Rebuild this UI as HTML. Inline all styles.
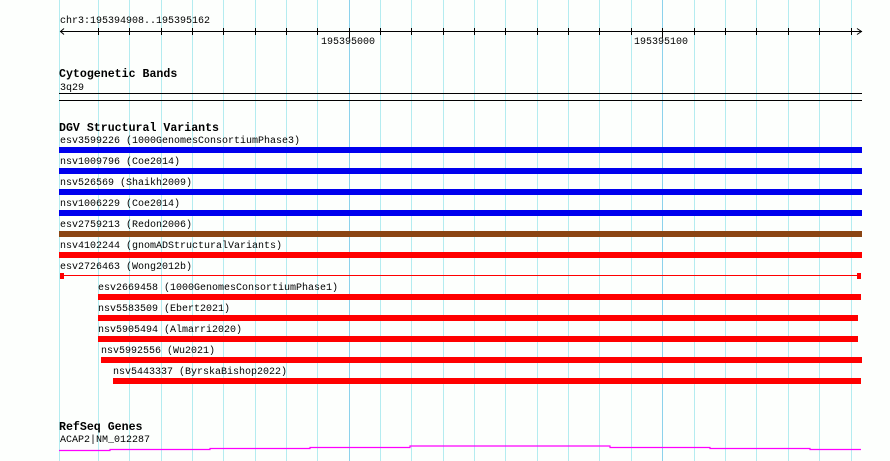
<!DOCTYPE html>
<html><head><meta charset="utf-8"><style>
body{margin:0;background:#fdfffd;width:890px;height:461px;overflow:hidden;position:relative;font-family:"Liberation Mono",monospace;}
.t{position:absolute;font-size:10px;line-height:11px;color:#000;white-space:pre;}
.h{position:absolute;font-size:11.6px;line-height:12px;font-weight:bold;white-space:pre;}
svg{position:absolute;left:0;top:0;}
</style></head><body>
<svg width="890" height="461">
<g stroke="#b4ecf0" stroke-width="1">
<line x1="59.5" y1="0" x2="59.5" y2="461"/>
<line x1="98.5" y1="0" x2="98.5" y2="461"/><line x1="129.5" y1="0" x2="129.5" y2="461"/><line x1="161.5" y1="0" x2="161.5" y2="461"/><line x1="192.5" y1="0" x2="192.5" y2="461"/><line x1="223.5" y1="0" x2="223.5" y2="461"/><line x1="255.5" y1="0" x2="255.5" y2="461"/><line x1="286.5" y1="0" x2="286.5" y2="461"/><line x1="317.5" y1="0" x2="317.5" y2="461"/>
<line x1="380.5" y1="0" x2="380.5" y2="461"/><line x1="411.5" y1="0" x2="411.5" y2="461"/><line x1="443.5" y1="0" x2="443.5" y2="461"/><line x1="474.5" y1="0" x2="474.5" y2="461"/><line x1="505.5" y1="0" x2="505.5" y2="461"/><line x1="537.5" y1="0" x2="537.5" y2="461"/><line x1="568.5" y1="0" x2="568.5" y2="461"/><line x1="599.5" y1="0" x2="599.5" y2="461"/><line x1="631.5" y1="0" x2="631.5" y2="461"/>
<line x1="694.5" y1="0" x2="694.5" y2="461"/><line x1="725.5" y1="0" x2="725.5" y2="461"/><line x1="756.5" y1="0" x2="756.5" y2="461"/><line x1="788.5" y1="0" x2="788.5" y2="461"/><line x1="819.5" y1="0" x2="819.5" y2="461"/><line x1="851.5" y1="0" x2="851.5" y2="461"/>
</g>
<g stroke="#8cd2ec"><line x1="349.5" y1="0" x2="349.5" y2="461"/><line x1="662.5" y1="0" x2="662.5" y2="461"/></g>
<g stroke="#000" stroke-width="1">
<line x1="60" y1="31.5" x2="862" y2="31.5"/>
<polyline points="64,28.5 60.5,31.5 64,34.5" fill="none"/>
<polyline points="857,28.5 861.5,31.5 857,34.5" fill="none"/>
<g>
<line x1="98.5" y1="28" x2="98.5" y2="35"/><line x1="129.5" y1="28" x2="129.5" y2="35"/><line x1="161.5" y1="28" x2="161.5" y2="35"/><line x1="192.5" y1="28" x2="192.5" y2="35"/><line x1="223.5" y1="28" x2="223.5" y2="35"/><line x1="255.5" y1="28" x2="255.5" y2="35"/><line x1="286.5" y1="28" x2="286.5" y2="35"/><line x1="317.5" y1="28" x2="317.5" y2="35"/><line x1="349.5" y1="28" x2="349.5" y2="38"/><line x1="380.5" y1="28" x2="380.5" y2="35"/><line x1="411.5" y1="28" x2="411.5" y2="35"/><line x1="443.5" y1="28" x2="443.5" y2="35"/><line x1="474.5" y1="28" x2="474.5" y2="35"/><line x1="505.5" y1="28" x2="505.5" y2="35"/><line x1="537.5" y1="28" x2="537.5" y2="35"/><line x1="568.5" y1="28" x2="568.5" y2="35"/><line x1="599.5" y1="28" x2="599.5" y2="35"/><line x1="631.5" y1="28" x2="631.5" y2="35"/><line x1="662.5" y1="28" x2="662.5" y2="38"/><line x1="694.5" y1="28" x2="694.5" y2="35"/><line x1="725.5" y1="28" x2="725.5" y2="35"/><line x1="756.5" y1="28" x2="756.5" y2="35"/><line x1="788.5" y1="28" x2="788.5" y2="35"/><line x1="819.5" y1="28" x2="819.5" y2="35"/><line x1="851.5" y1="28" x2="851.5" y2="35"/>
</g>
<line x1="59" y1="93.5" x2="862" y2="93.5"/>
<line x1="59" y1="100.5" x2="862" y2="100.5"/>
</g>
<rect x="59" y="147" width="803" height="6" fill="#0000ee"/>
<rect x="59" y="168" width="803" height="6" fill="#0000ee"/>
<rect x="59" y="189" width="803" height="6" fill="#0000ee"/>
<rect x="59" y="210" width="803" height="6" fill="#0000ee"/>
<rect x="59" y="231" width="803" height="6" fill="#8b4513"/>
<rect x="59" y="252" width="803" height="6" fill="#ff0000"/>
<line x1="60" y1="275.5" x2="861" y2="275.5" stroke="#ff0000"/>
<rect x="60" y="273" width="4" height="6" fill="#ff0000"/>
<rect x="857" y="273" width="4" height="6" fill="#ff0000"/>
<rect x="98" y="294" width="763" height="6" fill="#ff0000"/>
<rect x="98" y="315" width="760" height="6" fill="#ff0000"/>
<rect x="98" y="336" width="760" height="6" fill="#ff0000"/>
<rect x="101" y="357" width="761" height="6" fill="#ff0000"/>
<rect x="113" y="378" width="748" height="6" fill="#ff0000"/>
<polyline points="59,450.5 110,450.5 110,449.5 210,449.5 210,448.5 310,448.5 310,447.5 410,447.5 410,446 610,446 610,447.5 710,447.5 710,448.5 810,448.5 810,449.5 861,449.5" fill="none" stroke="#ff00ff" stroke-width="1.2"/>
</svg>
<div class="t" style="left:60px;top:16px">chr3:195394908..195395162</div>
<div class="t" style="left:321px;top:37px">195395000</div>
<div class="t" style="left:634px;top:37px">195395100</div>
<div class="h" style="left:59px;top:69px">Cytogenetic Bands</div>
<div class="t" style="left:60px;top:83px">3q29</div>
<div class="h" style="left:59px;top:123px">DGV Structural Variants</div>
<div class="t" style="left:60px;top:136px">esv3599226 (1000GenomesConsortiumPhase3)</div>
<div class="t" style="left:60px;top:157px">nsv1009796 (Coe2014)</div>
<div class="t" style="left:60px;top:178px">nsv526569 (Shaikh2009)</div>
<div class="t" style="left:60px;top:199px">nsv1006229 (Coe2014)</div>
<div class="t" style="left:60px;top:220px">esv2759213 (Redon2006)</div>
<div class="t" style="left:60px;top:241px">nsv4102244 (gnomADStructuralVariants)</div>
<div class="t" style="left:60px;top:262px">esv2726463 (Wong2012b)</div>
<div class="t" style="left:98px;top:283px">esv2669458 (1000GenomesConsortiumPhase1)</div>
<div class="t" style="left:98px;top:304px">nsv5583509 (Ebert2021)</div>
<div class="t" style="left:98px;top:325px">nsv5905494 (Almarri2020)</div>
<div class="t" style="left:101px;top:346px">nsv5992556 (Wu2021)</div>
<div class="t" style="left:113px;top:367px">nsv5443337 (ByrskaBishop2022)</div>
<div class="h" style="left:59px;top:422px">RefSeq Genes</div>
<div class="t" style="left:60px;top:435px">ACAP2|NM_012287</div>
</body></html>
